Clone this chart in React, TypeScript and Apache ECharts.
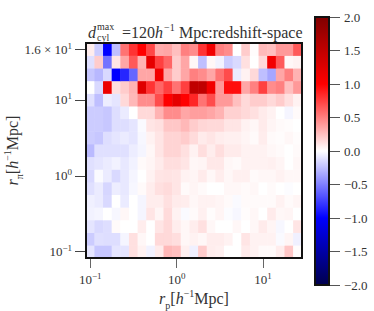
import React, { useEffect, useRef } from "react";
import * as echarts from "echarts";

const xCategories = Array.from({ length: 25 }, (_, i) => String(i));
const yCategories = Array.from({ length: 17 }, (_, i) => String(i));
const xTickLabels: Record<number, string> = { 0: "10{s|−1}", 10: "10{s|0}", 20: "10{s|1}" };
const yTickLabels: Record<number, string> = { 0: "10{s|−1}", 6: "10{s|0}", 12: "10{s|1}", 16: "1.6 × 10{s|1}" };

const row16 = [0.07, -0.2, -1.0, -0.25, 0.55, 0.8, 1.0, 0.72, 0.33, 0.35, 0.25, 0.5, 0.45, 0.8, 1.1, 0.5, 0.45, 0, 0.2, 0.01, 0.27, 0.25, 0.4, 0.4, 0.65];
const row15 = [-0.12, 0.2, -0.55, 0.1, 0.35, 0.65, 0.3, 1.2, 0.75, 0.6, 0.2, 0.35, 0.03, -0.25, 0.03, -0.05, -0.2, -0.15, 0.12, 0, 0.15, 1.1, 0.65, 0.03, 0.05];
const row14 = [-0.22, -0.28, -0.15, -1.0, -0.85, -0.6, 0.35, 0.35, 1.1, 0.35, 0.2, 0.35, 0.5, 0.45, 0.35, 0.55, 0.7, -0.08, 0.05, 0.15, -0.25, -0.35, 0.35, 0.5, 0.3];
const row13 = [0, -0.15, 1.15, 0.12, 0.2, 0.3, 1.25, 0.8, 0.6, 0.75, 0.55, 0.75, 1.5, 1.5, 1.1, 0.4, 0.95, 0.95, 0.35, 0.5, 0.75, 0.45, 0.5, 0.25, 0.4];
const row12 = [-0.12, -0.25, -0.07, -0.1, 0.15, 0.28, 0.45, 0.45, 0.7, 1.0, 1.2, 1.0, 0.85, 0.55, 0.7, 0.4, 0.4, 0.25, 0.15, 0.2, 0.2, 0.15, 0.2, 0.12, 0.05];
const row11 = [-0.2, -0.2, -0.22, -0.13, -0.08, 0, 0.15, 0.15, 0.3, 0.45, 0.45, 0.35, 0.38, 0.38, 0.35, 0.3, 0.18, 0.18, 0.15, 0.12, 0.08, 0.05, 0, -0.04, 0.02];
const row10 = [-0.2, -0.2, -0.22, -0.13, -0.13, -0.1, -0.02, 0.1, 0.12, 0.22, 0.22, 0.28, 0.2, 0.16, 0.15, 0.15, 0.1, 0.1, 0.05, 0.03, 0.08, 0.04, 0.02, 0.01, 0];
const row9 = [-0.2, -0.22, -0.13, -0.1, -0.08, -0.1, -0.03, 0.05, 0.1, 0.17, 0.17, 0.2, 0.14, 0.08, 0.1, 0.07, 0.06, 0.06, 0.04, 0.02, 0.07, 0.02, 0.01, 0.03, 0.01];
const row8 = [-0.27, -0.12, -0.12, -0.12, -0.12, -0.07, -0.04, 0.03, 0.1, 0.17, 0.17, 0.12, 0.05, 0.13, 0.07, 0.13, 0.08, 0.08, 0.05, 0.05, 0.05, 0.03, 0.02, 0, 0.02];
const row7 = [-0.12, -0.1, -0.08, -0.05, -0.09, -0.05, 0.02, 0.04, 0.08, 0.13, 0.13, 0.1, 0.03, 0.04, 0.09, 0.09, 0.03, 0.02, 0.05, 0.05, 0.05, 0.06, 0.04, 0, 0.03];
const row6 = [-0.15, -0.02, -0.08, -0.15, -0.09, -0.04, 0, 0.05, 0.1, 0.11, 0.1, 0.05, 0.04, 0.08, 0.03, 0.07, 0.03, 0.06, 0.06, 0.02, 0.03, 0.03, 0.05, 0.03, 0.03];
const row5 = [-0.12, -0.08, -0.16, -0.07, -0.09, -0.03, 0.02, 0.07, 0.12, 0.14, 0.1, 0.02, 0.04, 0.02, 0, 0, 0.03, 0.03, 0.02, 0.03, 0, 0.02, 0, -0.01, 0];
const row4 = [-0.06, -0.08, -0.15, 0, -0.08, 0, -0.04, 0.07, 0.07, 0.12, 0.08, 0.07, 0.03, 0.05, 0.05, 0.04, 0.02, -0.02, 0.02, 0.02, 0.02, 0.02, 0.05, 0.02, 0.04];
const row3 = [-0.05, -0.04, 0, -0.03, 0.03, 0, -0.04, 0.1, 0.04, 0.14, 0.05, -0.02, 0.02, 0.06, 0.01, 0.04, -0.01, -0.03, 0.01, 0.03, 0, 0.08, 0.03, 0.04, 0];
const row2 = [-0.1, -0.15, -0.13, 0.02, 0, 0, 0.07, 0, 0.1, 0.15, 0.07, 0.03, 0.07, 0.12, 0.03, 0, 0, 0.03, 0, 0.03, 0.08, 0.04, -0.03, 0, 0.1];
const row1 = [-0.2, -0.12, -0.13, -0.13, -0.04, 0.12, 0.03, 0, 0.15, 0.15, 0.13, 0.03, 0.05, 0.03, 0.07, 0.07, 0.05, 0, 0.1, 0.05, 0.05, 0.05, -0.02, 0.04, -0.06];
const row0 = [-0.1, -0.22, -0.22, -0.1, -0.1, 0.12, 0.05, -0.05, 0.08, 0.28, 0.25, 0.06, -0.06, 0.2, 0.07, 0.06, 0, 0, 0.08, 0.05, 0.02, 0.02, 0.07, 0.22, 0.01];
const rows = [row0, row1, row2, row3, row4, row5, row6, row7, row8, row9, row10, row11, row12, row13, row14, row15, row16];
const seismic = ["#00004d", "#0000ff", "#ffffff", "#ff0000", "#800000"];

const FONT = "'Liberation Serif', serif";
const INK = "#333333";

export default function App() {
  const ref = useRef<HTMLDivElement>(null);
  useEffect(() => {
    document.body.style.margin = "0";
    const chart = echarts.init(ref.current!, undefined, { renderer: "svg" });
    const cells: number[][] = [];
    rows.forEach((r, y) => r.forEach((v, x) => cells.push([x, y, v])));
    const txt = (text: string, x: number, y: number, fontSize: number, italic = false) => ({
      type: "text", x, y, z: 100,
      style: { text, fontSize, fontFamily: FONT, fontStyle: italic ? "italic" : "normal", fill: INK, verticalAlign: "middle" },
    });
    const nameRich = {
      i: { fontFamily: FONT, fontStyle: "italic", fontSize: 16, color: INK, lineHeight: 18 },
      n: { fontFamily: FONT, fontSize: 16, color: INK, lineHeight: 18 },
      sub: { fontFamily: FONT, fontSize: 10, color: INK, verticalAlign: "bottom", lineHeight: 10, padding: [0, 0, -3, 0] },
      sup: { fontFamily: FONT, fontSize: 10, color: INK, verticalAlign: "top", lineHeight: 10, padding: [-1, 0, 0, 0] },
    };
    const tickRich = {
      s: { fontFamily: FONT, fontSize: 9, color: INK, verticalAlign: "top", lineHeight: 9, padding: [0, 0, 0, 0] },
    };
    chart.setOption({
      animation: false,
      grid: [
        { left: 86, top: 43, width: 216, height: 215, outerBoundsMode: "none", containLabel: false },
        { left: 315, top: 17, width: 14, height: 268, outerBoundsMode: "none", containLabel: false },
      ],
      xAxis: [
        {
          type: "category", gridIndex: 0, data: xCategories,
          axisLine: { show: false },
          axisTick: { show: true, alignWithLabel: true, length: 10, interval: (i: number) => i in xTickLabels, lineStyle: { color: "#666", width: 1 } },
          axisLabel: {
            show: true, interval: (i: number) => i in xTickLabels, margin: 13,
            formatter: (_: string, i: number) => xTickLabels[i] ?? "",
            fontFamily: FONT, fontSize: 13, color: INK, lineHeight: 16, rich: tickRich,
          },
          name: "{i|r}{sub|p}{n|[}{i|h}{sup|−1}{n|Mpc]}",
          nameLocation: "middle", nameGap: 31, nameMoveOverlap: false,
          nameTextStyle: { rich: nameRich },
          splitLine: { show: false },
        },
        { type: "category", gridIndex: 1, data: ["0"], show: false },
      ],
      yAxis: [
        {
          type: "category", gridIndex: 0, data: yCategories,
          axisLine: { show: false },
          axisTick: { show: true, alignWithLabel: true, length: 11, interval: (i: number) => i in yTickLabels, lineStyle: { color: "#444", width: 1 } },
          axisLabel: {
            show: true, interval: (i: number) => i in yTickLabels, margin: 14,
            formatter: (_: string, i: number) => yTickLabels[i] ?? "",
            fontFamily: FONT, fontSize: 13, color: INK, lineHeight: 16, rich: tickRich,
          },
          name: "{i|r}{sub|π}{n|[}{i|h}{sup|−1}{n|Mpc]}",
          nameLocation: "middle", nameGap: 65, nameRotate: 90, nameMoveOverlap: false,
          nameTextStyle: { rich: nameRich },
          splitLine: { show: false },
        },
        {
          type: "value", gridIndex: 1, position: "right", min: -2, max: 2, interval: 0.5,
          axisLine: { show: false },
          axisTick: { show: true, length: 11, lineStyle: { color: "#555", width: 1 } },
          axisLabel: {
            margin: 15, fontFamily: FONT, fontSize: 13, color: INK,
            formatter: (v: number) => v.toFixed(1).replace("-", "−"),
          },
          splitLine: { show: false },
        },
      ],
      visualMap: {
        type: "continuous", min: -2, max: 2, seriesIndex: 0, calculable: false,
        left: 315, top: 17, itemWidth: 14, itemHeight: 268, padding: 0, text: ["", ""], showLabel: false,
        inRange: { color: seismic },
      },
      series: [
        {
          type: "heatmap", xAxisIndex: 0, yAxisIndex: 0, data: cells,
          itemStyle: { borderWidth: 0 }, progressive: 0, label: { show: false }, emphasis: { disabled: true },
        },
      ],
      graphic: [
        { type: "rect", z: 90, shape: { x: 86, y: 43, width: 216, height: 215 }, style: { fill: "none", stroke: "#111", lineWidth: 2 } },
        { type: "rect", z: 90, shape: { x: 315, y: 17, width: 14, height: 268 }, style: { fill: "none", stroke: "#111", lineWidth: 2 } },
        txt("d", 88, 32, 16, true),
        txt("max", 97, 26, 10),
        txt("cyl", 97, 37, 10),
        txt("=120", 122, 32, 16),
        txt("h", 155, 32, 16, true),
        txt("−1", 164, 27, 10),
        txt("Mpc:redshift-space", 179, 32, 16),
      ],
    });
    return () => chart.dispose();
  }, []);
  return <div ref={ref} style={{ position: "absolute", left: 0, top: 0, width: 374, height: 311 }} />;
}
